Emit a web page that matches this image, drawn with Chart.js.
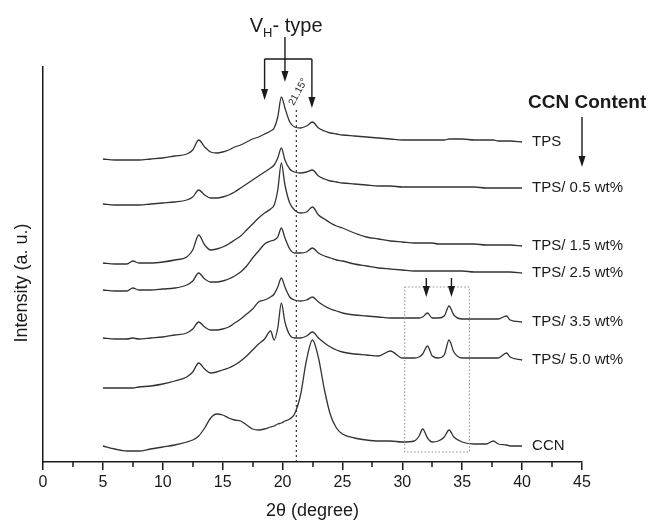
<!DOCTYPE html>
<html><head><meta charset="utf-8">
<script src="https://cdn.jsdelivr.net/npm/chart.js@4.4.1/dist/chart.umd.min.js"></script>
<style>html,body{margin:0;padding:0;background:#fff;} canvas{display:block;}</style>
</head><body>
<canvas id="c" width="648" height="522"></canvas>
<script>
// 2-theta sampling positions (degree)
const twoTheta = [5,6,7,7.5,8,9,10,11,12,12.5,13,13.5,14,14.5,15,15.5,16,16.5,17,17.5,18,18.5,19,19.3,19.6,19.9,20.2,20.6,21,21.5,22,22.5,23,23.5,24,24.5,25,26,27,28,29,30,31,31.4,31.7,32.1,32.5,33,33.5,33.9,34.3,35,36,37,37.6,38,38.7,39,40];

// Stacked intensities (a. u., offset traces)
const tps    = [303,302,302,302,302,303,304,306,308,312,322,315,310,309,310,312,315,317,320,323,325,328,331,334,345,365,354,340,335,334,336,340,334,331,329,328,327,326,325,324,323,322,322,322,322,322,322,322,322,323,323,323,322,322,322,321,321,321,320];
const tps05  = [258,257,257,257,257,258,259,260,262,265,272,267,264,264,265,267,270,274,278,282,286,290,294,297,304,314,302,293,290,289,290,292,286,283,281,280,279,278,277,276,276,275,275,275,275,275,275,275,275,275,275,275,275,274,274,274,274,274,274];
const tps15  = [199,198,198,201,199,199,200,202,205,212,227,217,212,213,215,218,222,226,232,238,244,249,253,257,272,299,277,259,252,249,250,255,247,243,239,236,234,229,225,223,221,220,219,219,219,219,219,218,218,218,218,218,218,217,217,217,217,217,216];
const tps25  = [172,171,171,174,172,172,173,174,177,181,189,183,180,180,181,183,186,190,196,204,211,218,221,222,225,234,224,213,209,209,210,214,209,206,204,202,201,198,196,194,193,192,191,191,191,191,191,191,191,191,191,191,190,190,190,190,190,190,189];
const tps35  = [124,123,123,124,123,124,125,127,129,133,140,135,132,132,133,135,139,143,148,153,160,162,165,168,175,184,175,165,162,161,162,165,160,156,153,151,149,147,146,145,144,144,144,144,145,149,144,144,146,156,147,143,143,143,143,143,146,142,140];
const tps50  = [74,74,74,74,75,76,78,81,85,90,99,93,89,90,92,94,97,101,106,112,118,123,131,122,134,159,140,127,124,124,126,130,124,119,115,112,110,108,107,106,111,104,104,105,108,116,106,104,107,122,110,104,104,104,104,104,109,105,102];
const ccn    = [16,13,11,11,11,13,15,17,20,22,26,34,44,48,47,44,42,41,37,33,32,33,35,36,38,39,41,43,48,67,102,122,104,72,47,34,28,24,22,21,21,20,21,26,33,24,20,21,25,32,25,20,18,18,21,18,17,16,16];

const seriesNames = ['TPS','TPS/ 0.5 wt%','TPS/ 1.5 wt%','TPS/ 2.5 wt%','TPS/ 3.5 wt%','TPS/ 5.0 wt%','CCN'];
const seriesValues = [tps, tps05, tps15, tps25, tps35, tps50, ccn];

const xTickStep = 5;
const xMinorTicks = [2.5,7.5,12.5,17.5,22.5,27.5,32.5,37.5,42.5];
const xMin = 0, xMax = 45, yMin = 0, yMax = 395;

// annotation positions in data units
const refLine = 21.15;
const vhArrows = [18.5, 20.2, 22.45];
const ccnArrows = [32.0, 34.1];
const box = {x1: 30.2, x2: 35.6, y1: 10, y2: 175};

const FONT = "'Liberation Sans', Arial, Helvetica, sans-serif";
const INK = '#1a1a1a';

function arrow(ctx, X, Y1, Y2) {
  ctx.beginPath(); ctx.moveTo(X, Y1); ctx.lineTo(X, Y2 - 9); ctx.stroke();
  ctx.beginPath(); ctx.moveTo(X - 3.5, Y2 - 11); ctx.lineTo(X + 3.5, Y2 - 11); ctx.lineTo(X, Y2); ctx.closePath(); ctx.fill();
}

const annot = {
  id: 'annot',
  afterDraw(chart) {
    const {ctx, chartArea} = chart;
    const sx = chart.scales.x, sy = chart.scales.y;
    const px = v => sx.getPixelForValue(v), py = v => sy.getPixelForValue(v);
    ctx.save();
    ctx.strokeStyle = INK; ctx.fillStyle = INK;
    // minor ticks
    ctx.lineWidth = 1.5;
    xMinorTicks.forEach(t => { const X = Math.round(px(t)); ctx.beginPath(); ctx.moveTo(X, chartArea.bottom); ctx.lineTo(X, chartArea.bottom + 5); ctx.stroke(); });
    // axis titles
    ctx.font = '18px ' + FONT; ctx.textAlign = 'center'; ctx.textBaseline = 'middle';
    ctx.fillText('2\u03b8 (degree)', (chartArea.left + chartArea.right) / 2, 511);
    ctx.save(); ctx.translate(22, 283); ctx.rotate(-Math.PI / 2); ctx.fillText('Intensity (a. u.)', 0, 0); ctx.restore();

    // dotted reference line
    ctx.save(); ctx.setLineDash([2, 3]); ctx.lineWidth = 1.2; ctx.strokeStyle = '#333';
    ctx.beginPath(); ctx.moveTo(px(refLine), py(0)); ctx.lineTo(px(refLine), py(352)); ctx.stroke(); ctx.restore();
    // rotated value label
    ctx.save(); ctx.translate(px(21.3), py(370)); ctx.rotate(-62 * Math.PI / 180);
    ctx.font = '10px ' + FONT; ctx.textAlign = 'center'; ctx.textBaseline = 'middle'; ctx.fillText('21.15\u00b0', 0, 0); ctx.restore();

    // dotted box
    ctx.save(); ctx.setLineDash([1.5, 2]); ctx.lineWidth = 1; ctx.strokeStyle = '#8a8a8a';
    ctx.strokeRect(px(box.x1), py(box.y2), px(box.x2) - px(box.x1), py(box.y1) - py(box.y2)); ctx.restore();

    // V_H bracket
    ctx.lineWidth = 1.4;
    const yb = py(403);
    ctx.beginPath(); ctx.moveTo(px(vhArrows[0]), yb); ctx.lineTo(px(vhArrows[2]), yb); ctx.stroke();
    arrow(ctx, px(vhArrows[0]), yb, py(362));
    arrow(ctx, px(vhArrows[2]), yb, py(354));
    arrow(ctx, px(vhArrows[1]), py(425), py(380));
    // V_H- type label
    ctx.textAlign = 'left'; ctx.textBaseline = 'alphabetic';
    const big = '20px ' + FONT, small = '13px ' + FONT;
    ctx.font = big; const wV = ctx.measureText('V').width, wT = ctx.measureText('- type').width;
    ctx.font = small; const wH = ctx.measureText('H').width;
    let tx = px(20.3) - (wV + wH + wT) / 2; const tb = py(430);
    ctx.font = big; ctx.fillText('V', tx, tb); tx += wV;
    ctx.font = small; ctx.fillText('H', tx, tb + 5); tx += wH;
    ctx.font = big; ctx.fillText('- type', tx, tb);

    // ccn arrows
    ccnArrows.forEach(a => arrow(ctx, px(a), py(184), py(165)));

    // CCN content label and arrow
    ctx.font = 'bold 19px ' + FONT; ctx.textAlign = 'left'; ctx.textBaseline = 'middle';
    ctx.fillText('CCN Content', px(40.5), py(359));
    arrow(ctx, px(45.0), py(345), py(295));

    // series labels
    ctx.font = '15px ' + FONT; ctx.textAlign = 'left'; ctx.textBaseline = 'middle';
    chart.data.datasets.forEach((ds, i) => {
      const meta = chart.getDatasetMeta(i);
      const last = meta.data[meta.data.length - 1];
      ctx.fillText(seriesNames[i], last.x + 10, last.y);
    });
    ctx.restore();
  }
};

new Chart(document.getElementById('c'), {
  type: 'line',
  data: {
    datasets: seriesValues.map((vals, i) => ({
      label: seriesNames[i],
      data: twoTheta.map((t, j) => ({x: t, y: vals[j]})),
      borderColor: '#333333',
      borderWidth: 1.3,
      pointRadius: 0,
      fill: false,
      cubicInterpolationMode: 'monotone'
    }))
  },
  options: {
    responsive: false,
    animation: false,
    devicePixelRatio: 1,
    layout: {padding: {left: 0, right: 66, top: 67, bottom: 0}},
    plugins: {legend: {display: false}, tooltip: {enabled: false}},
    scales: {
      x: {
        type: 'linear', min: xMin, max: xMax,
        ticks: {stepSize: xTickStep, color: INK, font: {family: FONT, size: 16}, padding: 3, maxRotation: 0},
        grid: {display: true, drawOnChartArea: false, drawTicks: true, tickLength: 8, color: INK, lineWidth: 1.5},
        border: {display: true, color: INK, width: 1.5},
        afterFit: s => { s.height = 60; }
      },
      y: {
        min: yMin, max: yMax,
        ticks: {display: false},
        grid: {display: false},
        border: {display: true, color: INK, width: 1.5},
        afterFit: s => { s.width = 43; }
      }
    }
  },
  plugins: [annot]
});
</script></body></html>
